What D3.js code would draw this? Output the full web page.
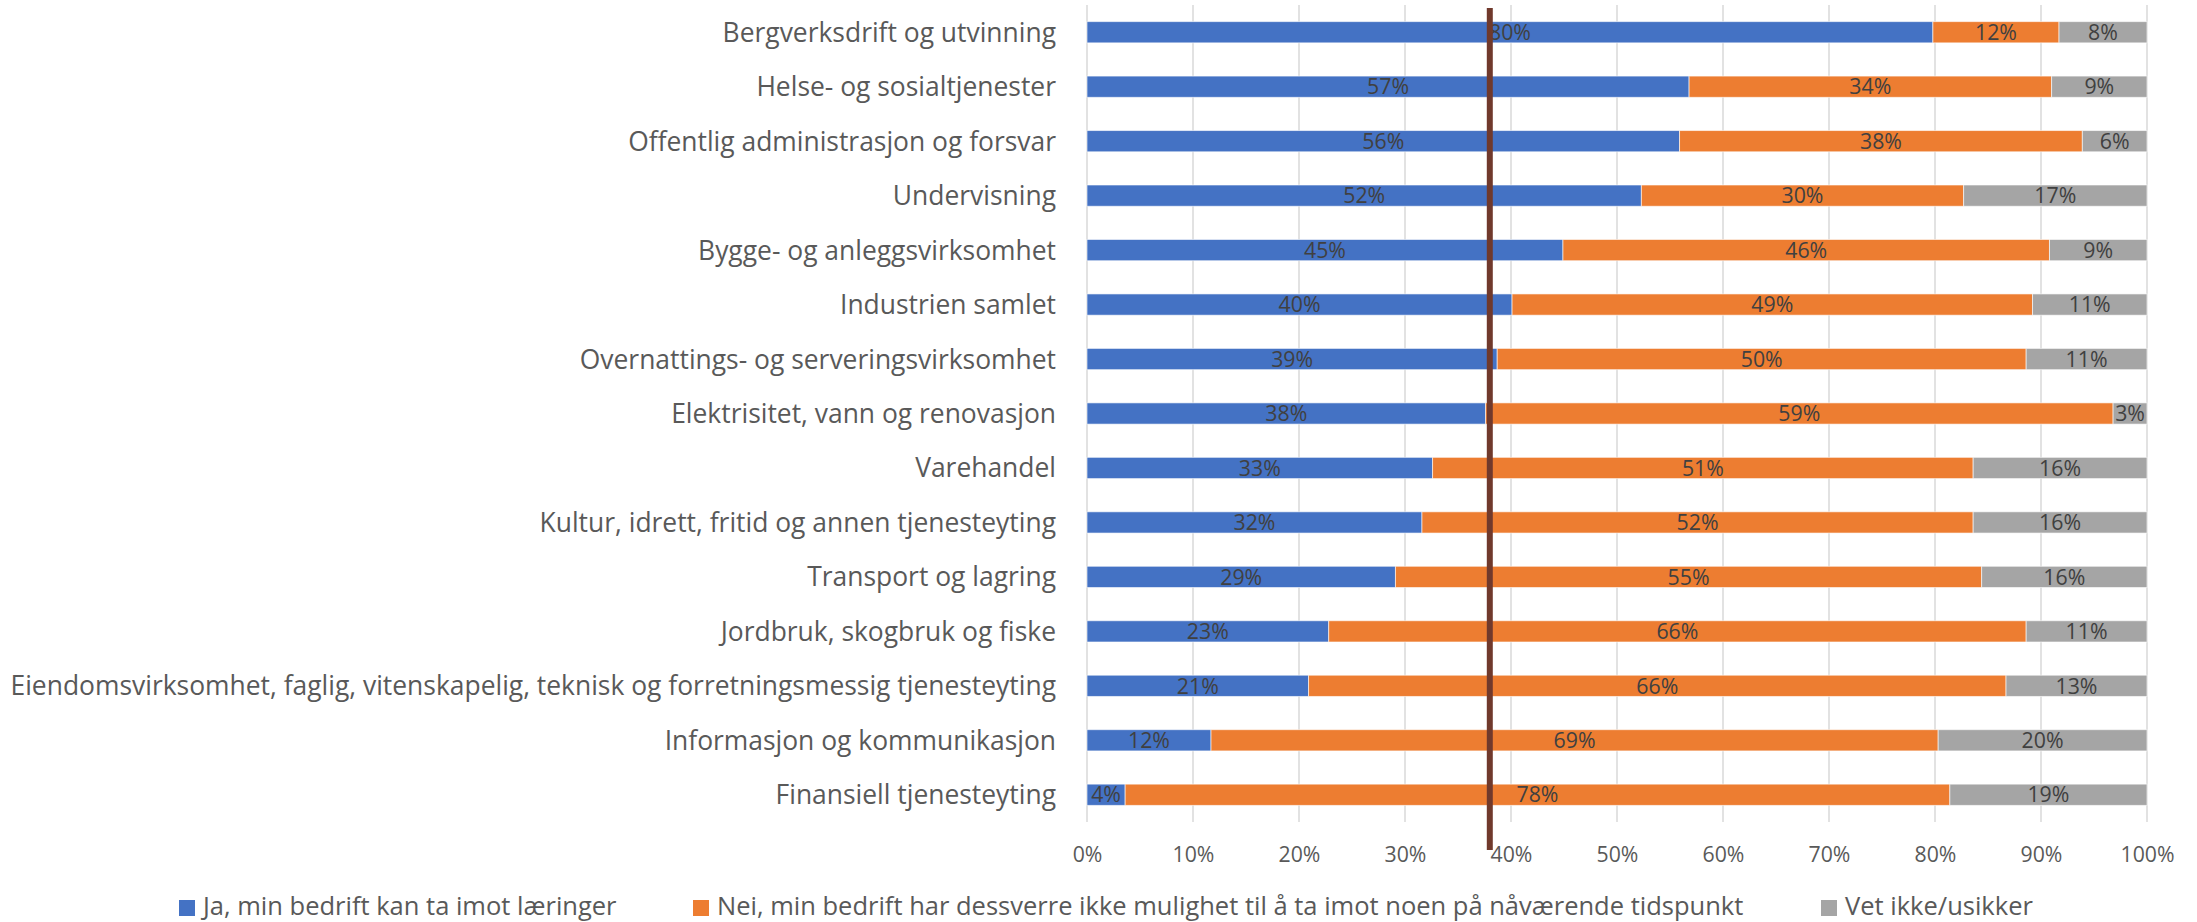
<!DOCTYPE html>
<html>
<head>
<meta charset="utf-8">
<script src="https://cdn.jsdelivr.net/npm/d3@7"></script>
<style>
  body { margin: 0; background: #fff; }
  text { font-family: "Open Sans", sans-serif; }
</style>
</head>
<body>
<div id="chart"></div>
<script>
// Categories (top to bottom)
var categories = [
  "Bergverksdrift og utvinning",
  "Helse- og sosialtjenester",
  "Offentlig administrasjon og forsvar",
  "Undervisning",
  "Bygge- og anleggsvirksomhet",
  "Industrien samlet",
  "Overnattings- og serveringsvirksomhet",
  "Elektrisitet, vann og renovasjon",
  "Varehandel",
  "Kultur, idrett, fritid og annen tjenesteyting",
  "Transport og lagring",
  "Jordbruk, skogbruk og fiske",
  "Eiendomsvirksomhet, faglig, vitenskapelig, teknisk og forretningsmessig tjenesteyting",
  "Informasjon og kommunikasjon",
  "Finansiell tjenesteyting"
];

// Series values, percent
var ja  = [79.8, 56.8, 55.9, 52.3, 44.9, 40.1, 38.7, 37.6, 32.6, 31.6, 29.1, 22.8, 20.9, 11.7, 3.6];
var nei = [11.9, 34.2, 38.0, 30.4, 45.9, 49.1, 49.9, 59.2, 51.0, 52.0, 55.3, 65.8, 65.8, 68.6, 77.8];
var vet = [8.3, 9.0, 6.1, 17.3, 9.2, 10.8, 11.4, 3.2, 16.4, 16.4, 15.6, 11.4, 13.3, 19.7, 18.6];

var seriesNames = [
  "Ja, min bedrift kan ta imot læringer",
  "Nei, min bedrift har dessverre ikke mulighet til å ta imot noen på nåværende tidspunkt",
  "Vet ikke/usikker"
];
var seriesColors = ["#4472C4", "#ED7D31", "#A5A5A5"];

var xTicks = [0, 10, 20, 30, 40, 50, 60, 70, 80, 90, 100];
var refLine = 38;

var W = 2197, H = 922;
var plotLeft = 1087, plotRight = 2147, plotTop = 5, plotBottom = 822;

var svg = d3.select("#chart").append("svg")
  .attr("width", W)
  .attr("height", H);

// pick a font size so a sample string gets the wanted width
function fitSize(str, wanted) {
  var t = svg.append("text").style("font-size", "20px").text(str);
  var w = t.node().getComputedTextLength();
  t.remove();
  return 20 * wanted / w;
}
var catSize = fitSize(categories[12], 1046);
var tickSize = fitSize("100%", 54);
var valSize = fitSize("57%", 42);
var legSize = fitSize(seriesNames[1], 1027);

var x = d3.scaleLinear().domain([0, 100]).range([plotLeft, plotRight]);
var y = d3.scaleBand().domain(categories).range([plotTop, plotBottom]).paddingInner(0.61).paddingOuter(0.305);

// gridlines
svg.append("g")
  .selectAll("line")
  .data(xTicks)
  .enter()
  .append("line")
  .attr("x1", d => x(d)).attr("x2", d => x(d))
  .attr("y1", plotTop).attr("y2", plotBottom)
  .style("stroke", "#D9D9D9")
  .style("stroke-width", 1.5);

// stack the data
var rows = categories.map(function(c, i) {
  return { cat: c, ja: ja[i], nei: nei[i], vet: vet[i] };
});
var stack = d3.stack().keys(["ja", "nei", "vet"])(rows);

var layer = svg.append("g")
  .selectAll("g")
  .data(stack)
  .enter()
  .append("g")
  .style("fill", (d, i) => seriesColors[i]);

layer.selectAll("rect")
  .data(d => d)
  .enter()
  .append("rect")
  .attr("x", d => x(d[0]))
  .attr("width", d => x(d[1]) - x(d[0]))
  .attr("y", d => y(d.data.cat))
  .attr("height", y.bandwidth())
  .style("stroke", "#fff")
  .style("stroke-opacity", 0.6)
  .style("stroke-width", 1);

// value labels
layer.selectAll("text")
  .data(d => d)
  .enter()
  .append("text")
  .attr("x", d => (x(d[0]) + x(d[1])) / 2)
  .attr("y", d => y(d.data.cat) + y.bandwidth() / 2)
  .attr("dy", "0.36em")
  .attr("text-anchor", "middle")
  .style("font-size", valSize + "px")
  .style("fill", "#404040")
  .text(d => Math.round(d[1] - d[0]) + "%");

// category labels
svg.append("g")
  .selectAll("text")
  .data(categories)
  .enter()
  .append("text")
  .attr("x", plotLeft - 31)
  .attr("y", d => y(d) + y.bandwidth() / 2)
  .attr("dy", "0.36em")
  .attr("text-anchor", "end")
  .style("font-size", catSize + "px")
  .style("fill", "#595959")
  .text(d => d);

// x axis tick labels
var xAxis = svg.append("g")
  .attr("transform", "translate(0," + (plotBottom + 20) + ")")
  .call(d3.axisBottom(x).tickValues(xTicks).tickSize(0).tickFormat(d => d + "%"));
xAxis.select(".domain").remove();
xAxis.attr("font-family", null).attr("font-size", null);
xAxis.selectAll("text")
  .attr("dy", "0.36em")
  .attr("y", 12)
  .style("font-size", tickSize + "px")
  .style("fill", "#595959");

// reference line
svg.append("line")
  .attr("x1", x(refLine)).attr("x2", x(refLine))
  .attr("y1", 8).attr("y2", 850)
  .style("stroke", "#70392C")
  .style("stroke-width", 6);

// legend
var legendX = [179, 693, 1821];
var legend = svg.append("g")
  .selectAll("g")
  .data(seriesNames)
  .enter()
  .append("g")
  .attr("transform", (d, i) => "translate(" + legendX[i] + ",900)");
legend.append("rect")
  .attr("width", 16).attr("height", 16)
  .style("fill", (d, i) => seriesColors[i]);
legend.append("text")
  .attr("x", 24)
  .attr("y", 6)
  .attr("dy", "0.36em")
  .style("font-size", legSize + "px")
  .style("fill", "#595959")
  .text(d => d);
</script>
</body>
</html>
